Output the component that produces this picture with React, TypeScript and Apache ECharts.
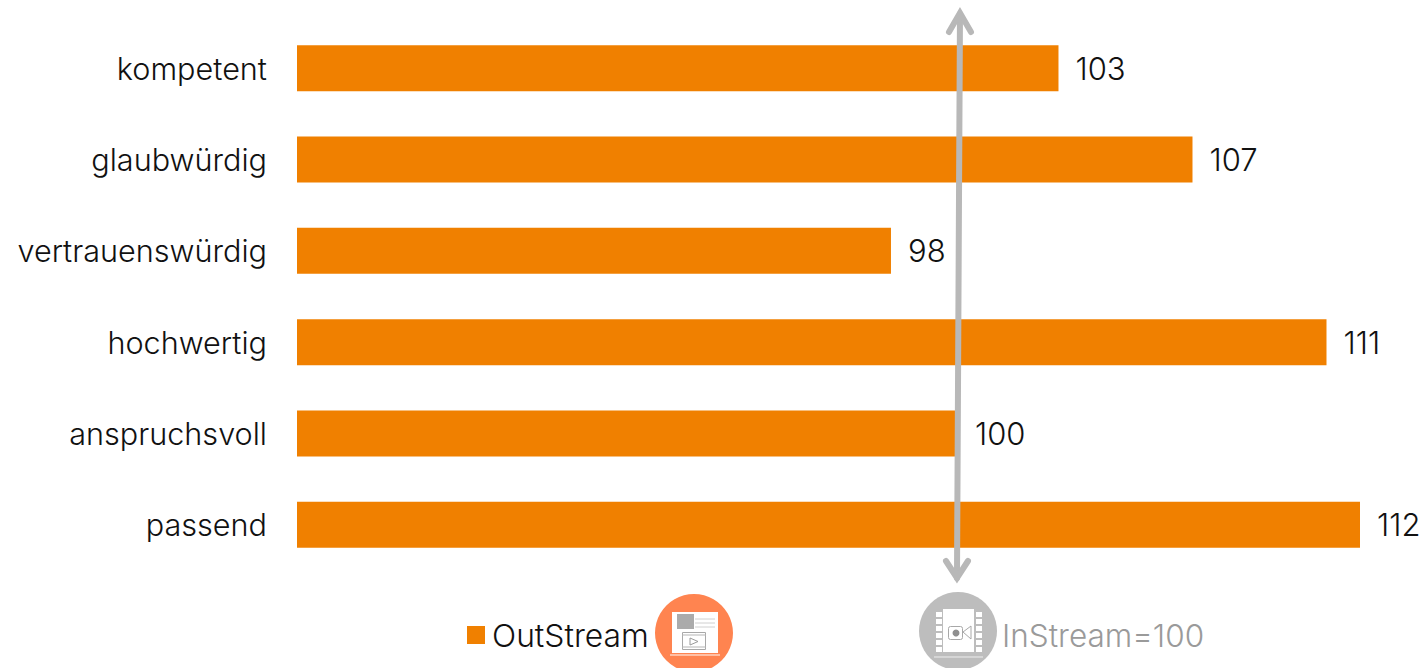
import React, { useEffect, useRef } from "react";
import * as echarts from "echarts";

const categories = ["kompetent", "glaubwürdig", "vertrauenswürdig", "hochwertig", "anspruchsvoll", "passend"];
const outStreamValues = [103, 107, 98, 111, 100, 112];
const seriesName = "OutStream";
const baselineLabel = "InStream=100";
const baselineValue = 100;

const FONT = "Inter";
const ORANGE = "#f08000";
const ARROW = "#b8b8b8";

const spot = (x: number, y: number, w: number, h: number, fill: string) => ({
  type: "rect",
  shape: { x, y, width: w, height: h },
  style: { fill },
  silent: true,
});
const rule = (x1: number, y1: number, x2: number, y2: number, stroke: string, lineWidth = 1) => ({
  type: "line",
  shape: { x1, y1, x2, y2 },
  style: { stroke, lineWidth },
  silent: true,
});

// Web page with embedded video, in an orange disc
const outStreamIcon = [
  { type: "circle", shape: { cx: 694, cy: 633, r: 39 }, style: { fill: "#ff8450" }, silent: true },
  spot(672, 612, 46, 41, "#ffffff"),
  rule(670, 655, 720, 655, "#ffd5c2", 1.5),
  spot(677, 614, 17, 15, "#ababab"),
  rule(695, 619, 715, 619, "#d0d0d0"),
  rule(695, 623, 715, 623, "#d0d0d0"),
  rule(695, 627, 715, 627, "#d0d0d0"),
  {
    type: "rect",
    shape: { x: 682.5, y: 632.5, width: 23, height: 17 },
    style: { fill: "#ffffff", stroke: "#a8a8a8", lineWidth: 1 },
    silent: true,
  },
  rule(682, 635, 706, 635, "#b5b5b5", 1),
  rule(682, 647, 706, 647, "#b5b5b5", 1),
  {
    type: "polygon",
    shape: { points: [[690, 638], [698, 641.5], [690, 645]] },
    style: { fill: "#ffffff", stroke: "#9a9a9a", lineWidth: 1 },
    silent: true,
  },
];

// Film strip with a camera, in a grey disc
const stripRows = [612, 619, 626, 633, 640, 647];
const inStreamIcon = [
  { type: "circle", shape: { cx: 958, cy: 631, r: 39 }, style: { fill: "#bdbdbd" }, silent: true },
  spot(943, 609, 31, 43, "#ffffff"),
  ...stripRows.flatMap((y) => [spot(936, y, 6, 5, "#ffffff"), spot(976, y, 6, 5, "#ffffff")]),
  rule(934, 657, 983, 657, "#eeeeee", 1),
  {
    type: "rect",
    shape: { x: 948.5, y: 626.5, width: 14, height: 13, r: 2 },
    style: { fill: "#ffffff", stroke: "#a8a8a8", lineWidth: 1 },
    silent: true,
  },
  { type: "circle", shape: { cx: 956, cy: 633, r: 3.5 }, style: { fill: "#8f8f8f" }, silent: true },
  {
    type: "polygon",
    shape: { points: [[963, 632], [971, 626], [971, 639]] },
    style: { fill: "#ffffff", stroke: "#a8a8a8", lineWidth: 1 },
    silent: true,
  },
];

export default function App() {
  const ref = useRef<HTMLDivElement>(null);

  useEffect(() => {
    document.body.style.margin = "0";
    document.body.style.overflow = "hidden";
    const chart = echarts.init(ref.current!, undefined, { renderer: "svg" });
    chart.setOption({
      animation: false,
      backgroundColor: "#ffffff",
      textStyle: { fontFamily: FONT },
      grid: { left: 297, right: 67, top: 22.5, height: 548, containLabel: false },
      xAxis: { type: "value", min: 80.27, max: 112, show: false },
      yAxis: {
        type: "category",
        inverse: true,
        data: categories,
        axisLine: { show: false },
        axisTick: { show: false },
        axisLabel: { fontFamily: FONT, fontWeight: 300, fontSize: 30.6, color: "#111111", margin: 30 },
      },
      legend: {
        left: 467,
        top: 619,
        padding: 0,
        itemWidth: 18,
        itemHeight: 18,
        icon: "rect",
        selectedMode: false,
        data: [seriesName],
        textStyle: { fontFamily: FONT, fontWeight: 300, fontSize: 31.8, color: "#111111", padding: [0, 0, 0, 2] },
      },
      series: [
        {
          name: seriesName,
          type: "bar",
          barWidth: 46,
          data: outStreamValues,
          itemStyle: { color: ORANGE },
          label: {
            show: true,
            position: "right",
            distance: 17,
            fontFamily: FONT,
            fontWeight: 300,
            fontSize: 31,
            color: "#111111",
          },
        },
        {
          // Double-headed reference arrow standing on the baseline value
          type: "custom",
          silent: true,
          clip: false,
          z: 5,
          data: [[baselineValue]],
          encode: { x: 0 },
          renderItem: (_: unknown, api: any) => {
            const x = api.coord([api.value(0), 0])[0];
            const style = { stroke: ARROW, lineWidth: 6, fill: "none", lineCap: "round", lineJoin: "miter" };
            return {
              type: "group",
              children: [
                { type: "line", shape: { x1: x + 2, y1: 14, x2: x - 1, y2: 578 }, style },
                { type: "polyline", shape: { points: [[x - 9, 32], [x + 2, 13], [x + 13, 32]] }, style },
                { type: "polyline", shape: { points: [[x - 12, 561], [x - 1, 578], [x + 10, 561]] }, style },
              ],
            };
          },
        },
      ],
      graphic: [
        ...outStreamIcon,
        ...inStreamIcon,
        {
          type: "text",
          left: 1002,
          top: 619,
          style: { text: baselineLabel, fontFamily: FONT, fontWeight: 300, fontSize: 31.5, fill: "#9a9a9a" },
          silent: true,
        },
      ],
    });
    return () => chart.dispose();
  }, []);

  return <div ref={ref} style={{ width: 1427, height: 668 }} />;
}
